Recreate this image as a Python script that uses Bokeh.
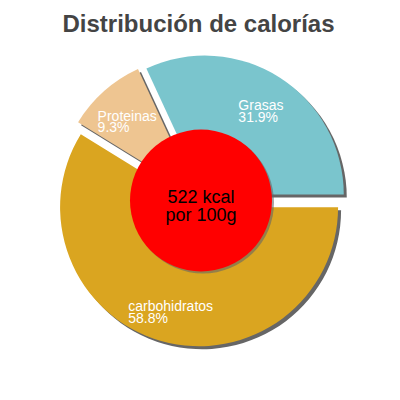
import math
from bokeh.plotting import figure
from bokeh.models import Range1d
from bokeh.embed import file_html
from bokeh.resources import INLINE
from bokeh.core.properties import value

title_text = "Distribución de calorías"
categories = ["Grasas", "Proteinas", "carbohidratos"]
percentages = [31.9, 9.3, 58.8]
colors = ["#7AC5CD", "#EEC591", "#DAA520"]
center_lines = ["522 kcal", "por 100g"]

FONT = "Liberation Sans"
# approximate Arial/Liberation Sans advance widths (em) for centring label blocks
CW = {"G": .778, "P": .667, "r": .333, "a": .556, "s": .5, "o": .556, "t": .278,
      "e": .556, "i": .222, "n": .556, "c": .5, "b": .556, "h": .556, "d": .556}

W = 384
p = figure(width=W, height=W, x_range=Range1d(0, 384), y_range=Range1d(16, 400),
           output_backend="svg", toolbar_location=None, min_border=0,
           x_axis_location=None, y_axis_location=None)
p.grid.visible = False
p.outline_line_color = None
p.background_fill_color = "white"
p.border_fill_color = "white"

BX, BY = 200.5, 200.0
R = 139.0
EXPLODE = 7.0
R_INNER = 71.0
SH = 3.0
LABEL_FS = 14

cx, cy, starts, ends, mids = [], [], [], [], []
cum = 0.0
for pct in percentages:
    a0 = cum / 100 * 2 * math.pi
    a1 = (cum + pct) / 100 * 2 * math.pi
    m = (a0 + a1) / 2
    starts.append(a0); ends.append(a1); mids.append(m)
    cx.append(BX + EXPLODE * math.cos(m))
    cy.append(BY + EXPLODE * math.sin(m))
    cum += pct

# shadows
p.wedge(x=[x + SH for x in cx], y=[y - SH for y in cy], radius=R,
        start_angle=starts, end_angle=ends, fill_color="#666666", line_color=None)
# slices
p.wedge(x=cx, y=cy, radius=R, start_angle=starts, end_angle=ends,
        fill_color=colors, line_color=None)

# labels
lx, ly_name, ly_pct, pct_txt = [], [], [], []
for i, name in enumerate(categories):
    ax = cx[i] + 0.75 * R * math.cos(mids[i])
    ay = cy[i] + 0.75 * R * math.sin(mids[i])
    w = sum(CW.get(ch, .556) for ch in name) * LABEL_FS
    lx.append(ax - w / 2)
    ly_name.append(ay + 1.5)
    ly_pct.append(ay - 10)
    pct_txt.append(f"{percentages[i]}%")
p.text(x=lx, y=ly_name, text=categories, text_color="white",
       text_font=value(FONT), text_font_size=f"{LABEL_FS}px",
       text_align="left", text_baseline="alphabetic")
p.text(x=lx, y=ly_pct, text=pct_txt, text_color="white",
       text_font=value(FONT), text_font_size=f"{LABEL_FS}px",
       text_align="left", text_baseline="alphabetic")

# centre disc
p.circle(x=[BX + 2], y=[BY - 2], radius=R_INNER, fill_color="#666666",
         fill_alpha=0.6, line_color=None)
p.circle(x=[BX], y=[BY], radius=R_INNER, fill_color="#FF0000", line_color=None)
p.text(x=[BX, BX], y=[BY + 4, BY - 14], text=center_lines, text_color="black",
       text_font=value(FONT), text_font_size="18px",
       text_align="center", text_baseline="alphabetic")

# title
p.text(x=[198], y=[377], text=[title_text], text_color="#444444",
       text_font=value(FONT), text_font_size="24px", text_font_style="bold",
       text_align="center", text_baseline="alphabetic")

open("out.html", "w").write(file_html(p, INLINE))
